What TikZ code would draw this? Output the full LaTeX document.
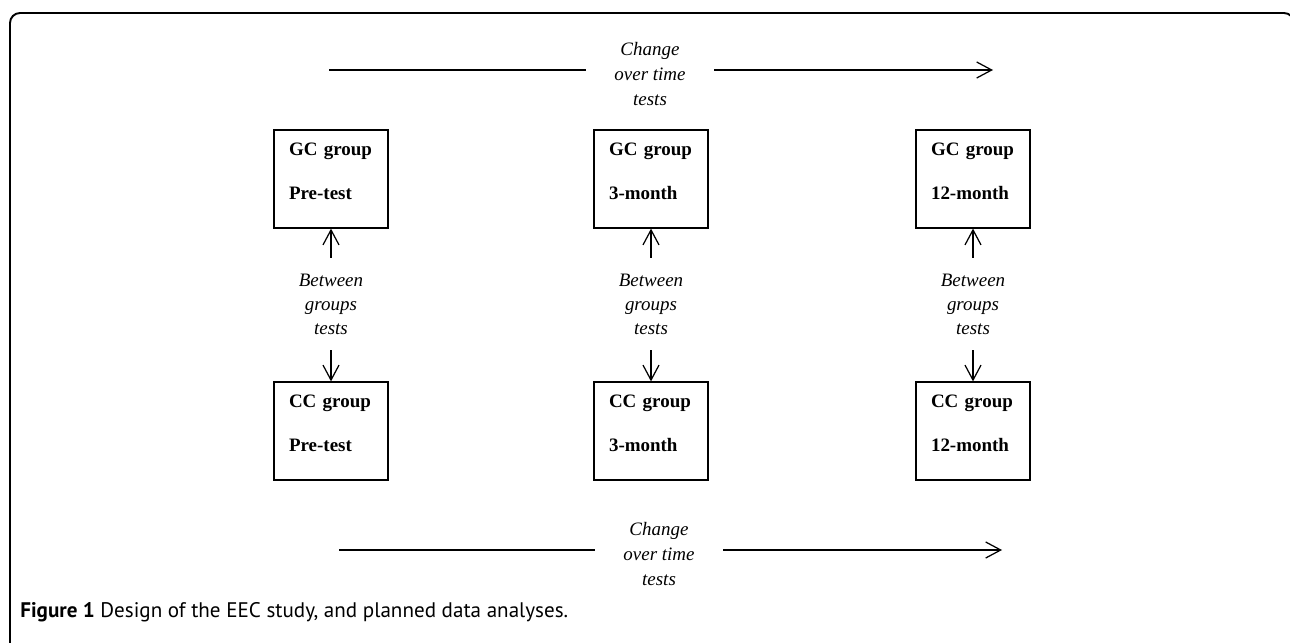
\documentclass[tikz,border=0pt]{standalone}
\usepackage{fontspec}
\setmainfont{Liberation Serif}
\newfontfamily\capfont{PT Sans}
\usetikzlibrary{arrows.meta}

\newcommand{\boxtext}[2]{#1\\#2\rule[-0.3cm]{0pt}{0pt}}

\tikzset{
        grpbox/.style={draw, line width=0.7pt, inner ysep=0pt, inner xsep=0.3cm, text width=1.68cm, minimum height=1.96cm, align=left, font=\fontsize{10.8pt}{25pt}\selectfont\bfseries},
        testlbl/.style={align=center, inner xsep=0pt, inner ysep=0.31cm, font=\fontsize{10.8pt}{13.7pt}\selectfont\itshape},
        timelbl/.style={align=center, inner xsep=0.57cm, inner ysep=0pt, font=\fontsize{10.8pt}{14.5pt}\selectfont\itshape},
        barb/.style={line width=0.7pt, -{Straight Barb[length=0.3cm,width=0.32cm]}}
}

\begin{document}
\begin{tikzpicture}[x=0.02cm, y=-0.02cm]
        \useasboundingbox (0,0) rectangle (1290,642);
        \draw[line width=1.1pt, rounded corners=0.2cm] (10,700) -- (10,13) -- (1294,13) -- (1294,700);

        \node[grpbox] (gc1) at (331,179) {\boxtext{GC group}{Pre-test}};
        \node[grpbox] (gc2) at (651,179) {\boxtext{GC group}{3-month}};
        \node[grpbox] (gc3) at (973,179) {\boxtext{GC group}{12-month}};
        \node[grpbox] (cc1) at (331,431) {\boxtext{CC group}{Pre-test}};
        \node[grpbox] (cc2) at (651,431) {\boxtext{CC group}{3-month}};
        \node[grpbox] (cc3) at (973,431) {\boxtext{CC group}{12-month}};

        \node[testlbl] (bt1) at (331,304) {Between\\groups\\tests};
        \node[testlbl] (bt2) at (651,304) {Between\\groups\\tests};
        \node[testlbl] (bt3) at (973,304) {Between\\groups\\tests};

        \draw[barb] (bt1) -- (gc1);
        \draw[barb] (bt1) -- (cc1);
        \draw[barb] (bt2) -- (gc2);
        \draw[barb] (bt2) -- (cc2);
        \draw[barb] (bt3) -- (gc3);
        \draw[barb] (bt3) -- (cc3);

        \node[timelbl] (tcot) at (650,74) {Change\\over time\\tests};
        \coordinate (tl) at (329,70);
        \coordinate (tr) at (993,70);
        \draw[line width=0.7pt] (tl) -- (tl -| tcot.west);
        \draw[barb] (tl -| tcot.east) -- (tr);

        \node[timelbl] (bcot) at (659,554) {Change\\over time\\tests};
        \coordinate (bl) at (339,550);
        \coordinate (br) at (1002,550);
        \draw[line width=0.7pt] (bl) -- (bl -| bcot.west);
        \draw[barb] (bl -| bcot.east) -- (br);

        \node[anchor=base west, inner sep=0pt, font=\capfont\fontsize{12pt}{14pt}\selectfont] (cap) at (20,617) {\textbf{Figure 1} Design of the EEC study, and planned data analyses.};
\end{tikzpicture}
\end{document}
